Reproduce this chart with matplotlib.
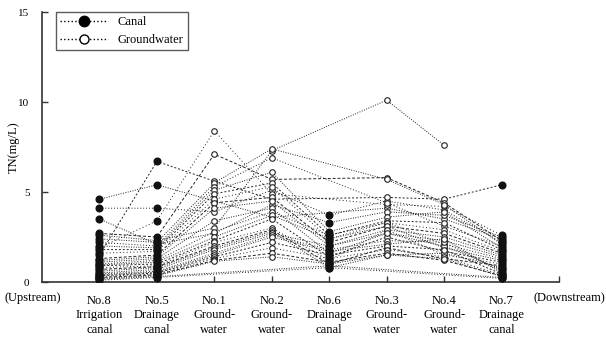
import numpy as np
import matplotlib
matplotlib.use("Agg")
import matplotlib.pyplot as plt
from matplotlib.lines import Line2D

plt.rcParams["font.family"] = ["Liberation Serif", "DejaVu Serif"]

# sampling stations, upstream -> downstream
stations = ["No.8\nIrrigation\ncanal", "No.5\nDrainage\ncanal", "No.1\nGround-\nwater",
            "No.2\nGround-\nwater", "No.6\nDrainage\ncanal", "No.3\nGround-\nwater",
            "No.4\nGround-\nwater", "No.7\nDrainage\ncanal"]
is_canal = [True, True, False, False, True, False, False, True]

# TN (mg/L) per station, one entry per sampling date (None = not sampled)
no8 = [4.6, 4.1, 3.5, 1.5, 1.9, 2.7, 2.6, 2.4, 2.2, 2.0, 1.8, 1.6, 1.3, 1.2, 1.1,
       1.0, 0.95, 0.9, 0.8, 0.7, 0.6, 0.5, 0.45, 0.4, 0.35, 0.3, 0.25, 0.2, 0.15, 0.1]
no5 = [5.4, 4.1, 2.1, 6.7, 3.4, 2.5, 2.3, 2.2, 2.0, 1.9, 1.8, 1.7, 1.5, 1.4, 1.3,
       1.2, 1.1, 1.0, 0.9, 0.85, 0.8, 0.7, 0.6, 0.55, 0.5, 0.45, 0.4, 0.35, 0.3, 0.25]
no1 = [4.5, 3.9, 2.7, 5.6, 8.4, 7.1, 3.0, 5.5, 5.3, 5.1, 4.9, 4.6, 4.4, 4.1, 3.4,
       2.8, 2.5, 2.3, 2.2, 2.0, 1.9, 1.8, 1.6, 1.5, 1.4, 1.3, 1.2, 1.15, None, None]
no2 = [3.6, 5.1, 4.3, 4.6, 4.9, 5.7, 7.3, 7.4, 6.9, 6.1, 5.5, 5.3, 4.7, 4.5, 4.1,
       3.9, 3.7, 3.5, 3.0, 2.9, 2.8, 2.7, 2.6, 2.5, 2.2, 1.9, 1.6, 1.4, None, None]
no6 = [None, 3.7, 3.3, None, None, None, None, None, None, 2.8, 2.6, 2.4, 2.2, 2.0, 1.6,
       2.6, 2.4, 1.4, 1.2, 1.0, 0.8, 2.0, 1.8, 1.7, 1.5, 1.3, 1.1, 1.0, 0.9, 0.8]
no3 = [4.1, 4.5, 3.9, 4.7, 4.3, 5.8, 10.1, 5.7, 4.4, 3.6, 3.4, 3.3, 3.1, 2.9, 2.7,
       3.3, 3.1, 2.5, 2.9, 1.9, 1.5, 2.7, 2.3, 2.1, 2.0, 1.8, 1.6, 1.5, None, None]
no4 = [3.5, 4.0, 3.7, 4.6, 4.2, 4.4, 7.6, 4.3, 3.1, 3.9, 3.3, 2.9, 2.7, 2.5, 2.3,
       2.1, 1.9, 1.7, 1.5, 1.3, 1.6, 2.0, 2.2, 2.4, 1.8, 1.4, 1.2, 1.3, None, None]
no7 = [2.4, 2.2, 2.5, 5.4, 2.6, 2.3, None, 2.1, 2.0, 1.9, 1.8, 1.7, 1.6, 1.5, 1.4,
       1.3, 1.2, 1.1, 1.0, 0.9, 0.8, 0.7, 0.6, 0.5, 0.45, 0.4, 0.35, 0.3, 0.25, 0.2]

table = np.array([no8, no5, no1, no2, no6, no3, no4, no7], dtype=float)
x = np.arange(1, len(stations) + 1)

line_styles = [(0, (1, 1.5)), (0, (1, 2)), (0, (1, 1.5)), (0, (2, 2)),
               (0, (1, 2.5)), (0, (3, 2)), (0, (1, 1.5))]

fig = plt.figure(figsize=(6.06, 3.40), dpi=100)
ax = fig.add_axes([42 / 606, 58 / 340, 517 / 606, 270 / 340])

# one dotted profile per sampling date, skipping stations not sampled
for j in range(table.shape[1]):
    vals = table[:, j]
    ok = ~np.isnan(vals)
    ax.plot(x[ok], vals[ok], color="#222222", lw=0.7,
            linestyle=line_styles[j % len(line_styles)], zorder=2)

for i, canal in enumerate(is_canal):
    vals = table[i][~np.isnan(table[i])]
    xs = np.full(len(vals), x[i])
    if canal:
        ax.plot(xs, vals, "o", ms=4.8, mfc="#111111", mec="#111111", ls="none", zorder=3)
    else:
        ax.plot(xs, vals, "o", ms=4, mfc="white", mec="#222222", mew=0.8,
                ls="none", zorder=3)

ax.set_xlim(0, 9)
ax.set_ylim(0, 15)
ax.set_yticks([0, 5, 10, 15])
ax.set_xticks(np.arange(1, 10))
ax.set_xticklabels(stations + [""], fontsize=9, linespacing=1.3)
ax.tick_params(axis="both", direction="in", length=4, width=1, color="#333333")
ax.tick_params(axis="y", labelsize=8, pad=9)
ax.tick_params(axis="x", pad=9)
for side in ("top", "right"):
    ax.spines[side].set_visible(False)
for side in ("left", "bottom"):
    ax.spines[side].set_linewidth(1.2)
    ax.spines[side].set_color("#333333")

ax.set_ylabel("TN(mg/L)", fontsize=9)
ax.yaxis.set_label_coords(-0.044, 0.5)

fig.text(5 / 606, 1 - 292 / 340, "(Upstream)", fontsize=9, ha="left", va="top")
fig.text(605 / 606, 1 - 292 / 340, "(Downstream)", fontsize=9, ha="right", va="top")

handles = [
    Line2D([], [], color="black", ls=":", lw=1, marker="o", ms=7.5,
           mfc="black", mec="black"),
    Line2D([], [], color="black", ls=":", lw=1, marker="o", ms=6.5,
           mfc="white", mec="black"),
]
leg = ax.legend(handles, ["Canal", "Groundwater"], loc="upper left",
                bbox_to_anchor=(0.027, 1.0), fontsize=9, frameon=True,
                fancybox=False, edgecolor="#333333", handlelength=3.8,
                borderpad=0.35, labelspacing=0.45, borderaxespad=0)
leg.get_frame().set_linewidth(1.0)

fig.savefig("out.png", dpi=100)
